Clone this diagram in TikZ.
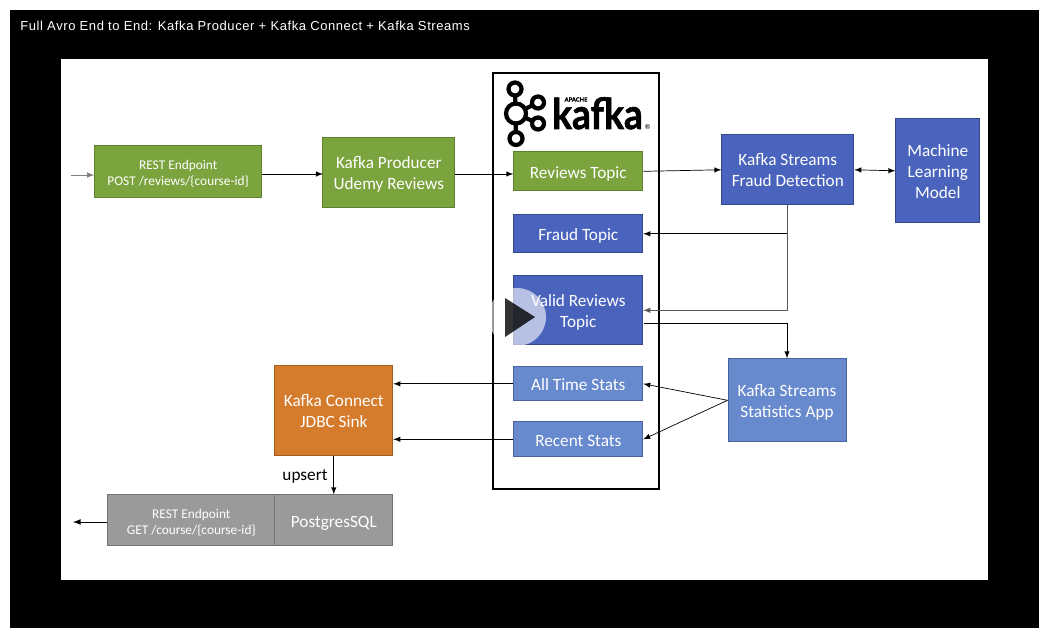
\documentclass[tikz,border=0pt]{standalone}
\usepackage{fontspec}
\setmainfont{Carlito}
\newfontfamily\titlefont[LetterSpace=4.5]{Liberation Sans}
\newfontfamily\logofont[BoldFeatures={FakeBold=1.5}]{Lato}
\usetikzlibrary{arrows}
\definecolor{greenbox}{HTML}{7BA33E}
\definecolor{greenline}{HTML}{5E8231}
\definecolor{bluebox}{HTML}{4A64BD}
\definecolor{blueline}{HTML}{35498E}
\definecolor{lightbox}{HTML}{6789CE}
\definecolor{lightline}{HTML}{4A64A0}
\definecolor{orangebox}{HTML}{D57B2C}
\definecolor{orangeline}{HTML}{A35C1E}
\definecolor{greybox}{HTML}{9A9A9A}
\definecolor{greyline}{HTML}{747474}
\tikzset{
    box/.style={draw, line width=0.55pt, text=white, align=center, font=\fontsize{9.8}{12}\selectfont, inner sep=0pt},
    oneline/.style={box, text height=8pt, text depth=0.1pt},
    twoline/.style={box, text height=19.6pt, text depth=0.3pt},
    threeline/.style={box, text height=32pt, text depth=0.4pt},
    small/.style={box, font=\fontsize{7.6}{9}\selectfont, text height=16pt, text depth=0.2pt},
    flow/.style={-latex, line width=0.4pt}
}
\begin{document}
\begin{tikzpicture}[x=0.02cm, y=-0.02cm]
                \useasboundingbox (0,0) rectangle (1051,635);
                % Slide
                \fill[black] (10,10) rectangle (1039,628);
                \fill[white] (61,59) rectangle (988,580);
                \node (title) at (20,25.5) [anchor=west, text=white, inner sep=0pt, font=\titlefont\fontsize{7.4}{9}\selectfont] {Full Avro End to End: Kafka Producer + Kafka Connect + Kafka Streams};
                \node (kafka) at (576,281) [draw, line width=0.7pt, minimum width=3.32cm, minimum height=8.32cm] {};

                % Logo
                \draw[line width=2.4pt] (515,89) -- (516,138.5) (516,113.5) -- (538,102.5) (516,113.5) -- (538,123.5);
                \foreach \cx/\cy/\cr in {515/89/6.5, 516/138.5/6.5, 538/102.5/6, 538/123.5/6, 516/113.5/10}
                    \draw[line width=2.4pt, fill=white] (\cx,\cy) circle (\cr);
                \node (logotext) at (597.5,129) [anchor=base, inner sep=0pt, xscale=0.88, transform shape, font=\logofont\bfseries\fontsize{24}{24}\selectfont] {kafka};
                \node (apache) at (576,99.5) [inner sep=0pt, font=\logofont\bfseries\fontsize{3.3}{4}\selectfont] {APACHE};
                \node (reg) at (647.5,127) [inner sep=0pt, font=\logofont\fontsize{4}{4}\selectfont] {®};

                % Boxes
                \node (post) at (178.2,171.8) [small, fill=greenbox, draw=greenline, minimum width=3.34cm, minimum height=1.04cm] {REST Endpoint\\POST /reviews/\{course-id\}};
                \node (producer) at (388.8,172.8) [twoline, fill=greenbox, draw=greenline, minimum width=2.64cm, minimum height=1.4cm] {Kafka Producer\\Udemy Reviews};
                \node (reviews) at (578.3,171.3) [oneline, fill=greenbox, draw=greenline, minimum width=2.58cm, minimum height=0.78cm] {Reviews Topic};
                \node (fraud) at (578.3,233.8) [oneline, fill=bluebox, draw=blueline, minimum width=2.58cm, minimum height=0.76cm] {Fraud Topic};
                \node (valid) at (578.3,310.3) [twoline, fill=bluebox, draw=blueline, minimum width=2.58cm, minimum height=1.38cm] {Valid Reviews\\Topic};
                \node (alltime) at (578.3,383.8) [oneline, fill=lightbox, draw=lightline, minimum width=2.58cm, minimum height=0.68cm] {All Time Stats};
                \node (recent) at (578.3,439.3) [oneline, fill=lightbox, draw=lightline, minimum width=2.58cm, minimum height=0.7cm] {Recent Stats};
                \node (detect) at (787.8,169.8) [twoline, fill=bluebox, draw=blueline, minimum width=2.64cm, minimum height=1.4cm] {Kafka Streams\\Fraud Detection};
                \node (model) at (937.8,170.8) [threeline, fill=bluebox, draw=blueline, minimum width=1.68cm, minimum height=2.08cm] {Machine\\Learning\\Model};
                \node (stats) at (787,400.3) [twoline, fill=lightbox, draw=lightline, minimum width=2.36cm, minimum height=1.66cm] {Kafka Streams\\Statistics App};
                \node (connect) at (333.8,410.8) [twoline, fill=orangebox, draw=orangeline, minimum width=2.36cm, minimum height=1.8cm] {Kafka Connect\\JDBC Sink};
                \node (postgres) at (333.8,520.3) [oneline, fill=greybox, draw=greyline, minimum width=2.36cm, minimum height=1.02cm] {PostgresSQL};
                \node (get) at (191.3,520.3) [small, fill=greybox, draw=greyline, minimum width=3.34cm, minimum height=1.02cm] {REST Endpoint\\GET /course/\{course-id\}};
                \node (upsert) at (305,476) [inner sep=0pt, font=\fontsize{9.8}{12}\selectfont] {upsert};

                % Connectors
                \coordinate (postin) at (71,175);
                \coordinate (getout) at (73,522);
                \coordinate (producerin) at (323,174);
                \coordinate (validout) at (643.5,323);
                \draw[flow, gray] (postin) -- (post.west |- postin);
                \draw[flow] (post.east |- producerin) -- (producerin);
                \draw[flow] (producer.east |- producerin) -- (reviews.west |- producerin);
                \draw[flow] (reviews.east) -- (detect.west);
                \draw[latex-latex, line width=0.4pt] (detect.east) -- (model.west);
                \draw[flow] (detect.south) |- (fraud.east);
                \draw[flow, gray!70!black] (detect.south) |- (valid.east);
                \draw[flow] (validout) -| (stats.north);
                \draw[flow] (stats.west) -- (alltime.east);
                \draw[flow] (stats.west) -- (recent.east);
                \draw[flow] (alltime.west) -- (alltime.west -| connect.east);
                \draw[flow] (recent.west) -- (recent.west -| connect.east);
                \draw[flow] (connect.south) -- (postgres.north);
                \draw[flow, line width=0.5pt] (get.west |- getout) -- (getout);

                % Play button
                \fill[white, opacity=0.6] (517,317) circle (29);
                \fill[black, opacity=0.8] (505,298) -- (535,317) -- (505,337) -- cycle;
            \end{tikzpicture}
\end{document}
